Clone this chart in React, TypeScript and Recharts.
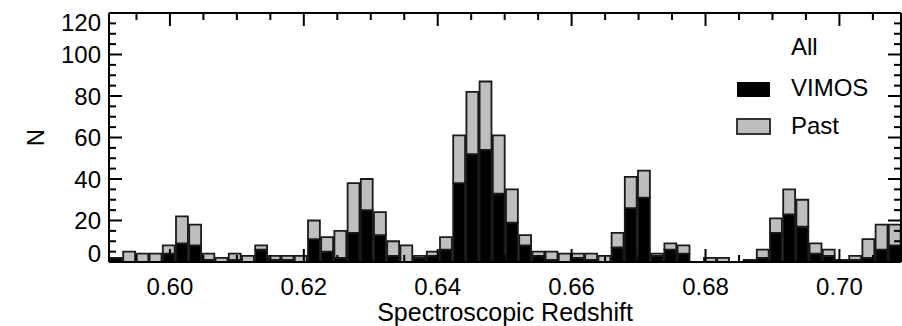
import { Bar, ComposedChart, Legend, Line, XAxis, YAxis } from "recharts";

// redshift range of the histogram and count axis
const Z_MIN = 0.5909;
const Z_MAX = 0.7092;
const N_MAX = 120;
const N_BINS = 60;

const FONT = "'Liberation Sans', Arial, Helvetica, sans-serif";
const FONT_SIZE = 24;

// counts per redshift bin (60 equal bins across the plotted range)
const vimos = [
  2, 0, 0, 0, 4, 9, 8, 1, 0, 1,
  0, 6, 1, 1, 0, 11, 5, 2, 14, 25,
  13, 3, 0, 2, 3, 6, 38, 52, 54, 33,
  19, 8, 3, 1, 0, 2, 1, 0, 7, 26,
  31, 3, 6, 4, 0, 0, 0, 0, 1, 2,
  14, 23, 17, 4, 3, 1, 1, 2, 6, 8,
];
const past = [
  0, 5, 4, 4, 4, 13, 10, 3, 2, 3,
  3, 2, 2, 2, 3, 9, 7, 13, 24, 15,
  11, 7, 8, 1, 2, 6, 23, 30, 33, 28,
  16, 5, 2, 4, 4, 2, 3, 3, 7, 15,
  13, 1, 3, 4, 0, 2, 2, 0, 0, 4,
  7, 12, 13, 5, 3, 0, 2, 9, 12, 10,
];

const xMajor = [0.6, 0.62, 0.64, 0.66, 0.68, 0.7];
const xMinor = [
  0.595, 0.605, 0.61, 0.615, 0.625, 0.63, 0.635, 0.645, 0.65, 0.655,
  0.665, 0.67, 0.675, 0.685, 0.69, 0.695, 0.705,
];
const yMajor = [0, 20, 40, 60, 80, 100, 120];
const yMinor = [
  5, 10, 15, 25, 30, 35, 45, 50, 55, 65, 70, 75, 85, 90, 95, 105, 110, 115,
];

const binWidth = (Z_MAX - Z_MIN) / N_BINS;
const data = vimos.map((v, i) => ({
  z: Z_MIN + (i + 0.5) * binWidth,
  vimos: v,
  past: past[i],
}));

const CHART_W = 902;
const PLOT_LEFT = 109;
const PLOT_RIGHT = 901;
const BAR_PX = (PLOT_RIGHT - PLOT_LEFT) / N_BINS;

const isMajor = (v: number, majors: number[]) =>
  majors.some((m) => Math.abs(m - v) < 1e-6);

const MAJOR_LEN = 13;
const MINOR_LEN = 7;
const AXIS_STROKE = { stroke: "#000", strokeWidth: 2 };

function BottomTick({ x, y, payload }: any) {
  const major = isMajor(payload.value, xMajor);
  return (
    <g>
      <line x1={x} x2={x} y1={y} y2={y - (major ? MAJOR_LEN : MINOR_LEN)} {...AXIS_STROKE} />
      {major && (
        <text x={x} y={y + 33} textAnchor="middle" fontFamily={FONT} fontSize={FONT_SIZE} fill="#000">
          {payload.value.toFixed(2)}
        </text>
      )}
    </g>
  );
}

function TopTick({ x, y, payload }: any) {
  const major = isMajor(payload.value, xMajor);
  return <line x1={x} x2={x} y1={y} y2={y + (major ? MAJOR_LEN : MINOR_LEN)} {...AXIS_STROKE} />;
}

function LeftTick({ x, y, payload }: any) {
  const v = payload.value;
  const major = isMajor(v, yMajor);
  // IDL nudges the end labels inside the box
  const shift = v === 0 ? -9 : v === N_MAX ? 9 : 0;
  return (
    <g>
      <line x1={x} x2={x + (major ? MAJOR_LEN : MINOR_LEN)} y1={y} y2={y} {...AXIS_STROKE} />
      {major && (
        <text x={x - 8} y={y + shift} dy="0.36em" textAnchor="end" fontFamily={FONT} fontSize={FONT_SIZE} fill="#000">
          {v}
        </text>
      )}
    </g>
  );
}

function RightTick({ x, y, payload }: any) {
  const major = isMajor(payload.value, yMajor);
  return <line x1={x} x2={x - (major ? MAJOR_LEN : MINOR_LEN)} y1={y} y2={y} {...AXIS_STROKE} />;
}

function LegendBox() {
  const textProps = { fontFamily: FONT, fontSize: FONT_SIZE, fill: "#000" };
  return (
    <svg width={202} height={130} style={{ display: "block" }}>
      <text x={91} y={35} {...textProps}>All</text>
      <rect x={37} y={62} width={33} height={15} fill="#000" />
      <text x={91} y={76} {...textProps}>VIMOS</text>
      <rect x={37} y={99} width={33} height={15} fill="#bebebe" stroke="#222" strokeWidth={1.8} />
      <text x={91} y={114} {...textProps}>Past</text>
    </svg>
  );
}

export default function App() {
  return (
    <div style={{ position: "absolute", left: 0, top: 0, background: "#fff" }}>
      <ComposedChart
        width={CHART_W}
        height={326}
        data={data}
        margin={{ top: 12, right: CHART_W - PLOT_RIGHT - 1, bottom: 0, left: 0 }}
        barCategoryGap={0}
        barGap={0}
      >
        <XAxis
          xAxisId="z"
          dataKey="z"
          type="number"
          domain={[Z_MIN, Z_MAX]}
          allowDataOverflow
          ticks={[...xMajor, ...xMinor]}
          interval={0}
          height={64}
          tickSize={0}
          tickMargin={0}
          tickLine={false}
          axisLine={AXIS_STROKE}
          tick={BottomTick}
          label={{
            content: ({ viewBox }: any) => (
              <text
                x={viewBox.x + viewBox.width / 2}
                y={viewBox.y + 59}
                textAnchor="middle"
                fontFamily={FONT}
                fontSize={25}
                fill="#000"
              >
                Spectroscopic Redshift
              </text>
            ),
          }}
        />
        <XAxis
          xAxisId="ztop"
          dataKey="z"
          orientation="top"
          type="number"
          domain={[Z_MIN, Z_MAX]}
          allowDataOverflow
          ticks={[...xMajor, ...xMinor]}
          interval={0}
          height={1}
          tickSize={0}
          tickMargin={0}
          tickLine={false}
          axisLine={AXIS_STROKE}
          tick={TopTick}
        />
        <YAxis
          yAxisId="n"
          type="number"
          domain={[0, N_MAX]}
          allowDataOverflow
          ticks={[...yMajor, ...yMinor]}
          interval={0}
          width={PLOT_LEFT}
          tickSize={0}
          tickMargin={0}
          tickLine={false}
          axisLine={AXIS_STROKE}
          tick={LeftTick}
          label={{
            content: ({ viewBox }: any) => (
              <text
                x={viewBox.x + 35}
                y={viewBox.y + viewBox.height / 2}
                transform={`rotate(-90 ${viewBox.x + 35} ${viewBox.y + viewBox.height / 2})`}
                textAnchor="middle"
                dy="0.36em"
                fontFamily={FONT}
                fontSize={FONT_SIZE}
                fill="#000"
              >
                N
              </text>
            ),
          }}
        />
        <YAxis
          yAxisId="r"
          orientation="right"
          type="number"
          domain={[0, N_MAX]}
          allowDataOverflow
          ticks={[...yMajor, ...yMinor]}
          interval={0}
          width={1}
          tickSize={0}
          tickMargin={0}
          tickLine={false}
          axisLine={AXIS_STROKE}
          tick={RightTick}
        />
        <Legend
          layout="horizontal"
          verticalAlign="middle"
          align="center"
          content={() => <LegendBox />}
          wrapperStyle={{ position: "absolute", left: 700, top: 20, width: 202, height: 130 }}
        />
        <Bar
          xAxisId="z"
          yAxisId="n"
          dataKey="vimos"
          name="VIMOS"
          stackId="all"
          barSize={BAR_PX}
          fill="#000"
          stroke="#1a1a1a"
          strokeWidth={1.8}
          isAnimationActive={false}
        />
        <Bar
          xAxisId="z"
          yAxisId="n"
          dataKey="past"
          name="Past"
          stackId="all"
          barSize={BAR_PX}
          fill="#bebebe"
          stroke="#1a1a1a"
          strokeWidth={1.8}
          isAnimationActive={false}
        />
        {/* invisible series so the mirrored top/right frame axes get a scale */}
        <Line
          xAxisId="ztop"
          yAxisId="r"
          dataKey="vimos"
          stroke="none"
          dot={false}
          activeDot={false}
          legendType="none"
          isAnimationActive={false}
        />
      </ComposedChart>
    </div>
  );
}
